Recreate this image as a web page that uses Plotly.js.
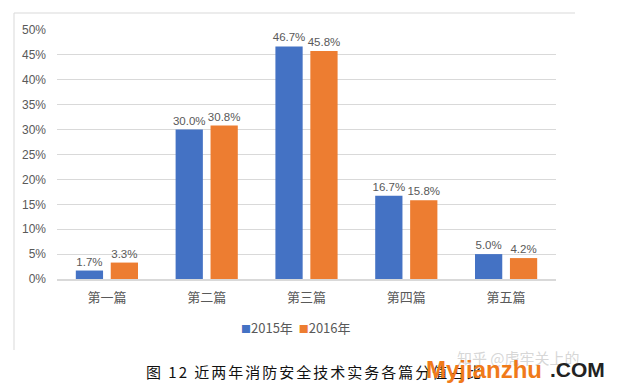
<!DOCTYPE html>
<html><head><meta charset="utf-8">
<script src="https://cdn.plot.ly/plotly-3.0.1.min.js"></script>
<style>body{margin:0;background:#fff}#c{width:617px;height:389px}
.annotation[data-index="1"] text{letter-spacing:2px}</style>
</head><body><div id="c"></div>
<script>
const categories = ["第一篇","第二篇","第三篇","第四篇","第五篇"];
const s2015 = [0.017,0.300,0.467,0.167,0.050];
const s2016 = [0.033,0.308,0.458,0.158,0.042];
const seriesNames = ["2015年","2016年"];
const colors = ["#4472C4","#ED7D31"];
const yTicks = [0,0.05,0.10,0.15,0.20,0.25,0.30,0.35,0.40,0.45,0.50];
const yTickText = yTicks.map(v => Math.round(v*100) + "%");

const font = "Microsoft YaHei, 'Noto Sans CJK SC', 'Liberation Sans', sans-serif";
const numFont = "'Liberation Sans', Arial, sans-serif";
function tr(name, vals, color){
  return {type:"bar", name:name, x:categories, y:vals,
    marker:{color:color, line:{width:0}},
    text:vals.map(v => (v*100).toFixed(1)+"%"), textposition:"outside", constraintext:"none",
    textfont:{size:11.5, color:"#595959", family:numFont}, cliponaxis:false,
    hoverinfo:"none", showlegend:false};
}
const data = [tr(seriesNames[0], s2015, colors[0]), tr(seriesNames[1], s2016, colors[1])];
const legendText = seriesNames.map((n,i) => "<span style='color:"+colors[i]+";font-size:10px'>■</span>"+n).join("  ");
const layout = {
  width:617, height:389,
  margin:{l:57, r:61, t:30, b:110},
  paper_bgcolor:"#fff", plot_bgcolor:"#fff",
  barmode:"group", bargap:0.3, bargroupgap:0.22,
  font:{family:font, color:"#595959"},
  xaxis:{type:"category", showgrid:false, showline:true, linecolor:"#d9d9d9", linewidth:1.5,
    ticks:"", tickfont:{size:13, color:"#595959", family:font}, ticklabelstandoff:6},
  yaxis:{range:[0,0.5], tickvals:yTicks, ticktext:yTickText, showgrid:true, gridcolor:"#d9d9d9",
    zeroline:false, showline:false, ticks:"", ticklabelstandoff:10,
    tickfont:{size:12, color:"#595959", family:numFont}},
  shapes:[
    {type:"line", xref:"paper", yref:"paper", x0:-43/499, x1:518/499, y0:(279-13)/249, y1:(279-13)/249, line:{color:"#d9d9d9", width:1}},
    {type:"line", xref:"paper", yref:"paper", x0:-43/499, x1:-43/499, y0:(279-13)/249, y1:(279-350)/249, line:{color:"#d9d9d9", width:1}}
  ],
  annotations:[
    {xref:"paper", yref:"paper", x:(296-57)/499, y:(279-327)/249, xanchor:"center", yanchor:"middle", showarrow:false,
     text:legendText, font:{size:13, color:"#595959", family:font}},
    {xref:"paper", yref:"paper", x:(314-57)/499, y:(279-371)/249, xanchor:"center", yanchor:"middle", showarrow:false,
     text:"图 12 近两年消防安全技术实务各篇分值占比", font:{size:15, color:"#111", family:"'Noto Sans CJK SC', serif"}},
    {xref:"paper", yref:"paper", x:(455-57)/499, y:(279-357)/249, xanchor:"left", yanchor:"middle", showarrow:false,
     text:"知乎 @虎牢关上的", font:{size:15, color:"rgba(180,180,180,0.55)", family:"'Noto Sans CJK SC'"}},
    {xref:"paper", yref:"paper", x:(424-57)/499, y:(279-369)/249, xanchor:"left", yanchor:"middle", showarrow:false,
     text:"<b>Myjianzhu</b>", font:{size:24, color:"#F07A1A", family:"'Liberation Sans', Arial"}},
    {xref:"paper", yref:"paper", x:(548-57)/499, y:(279-369)/249, xanchor:"left", yanchor:"middle", showarrow:false,
     text:"<b>.COM</b>", font:{size:21, color:"#222", family:"'Liberation Sans', Arial"}}
  ]
};
Plotly.newPlot("c", data, layout, {staticPlot:true, displayModeBar:false});
</script></body></html>
